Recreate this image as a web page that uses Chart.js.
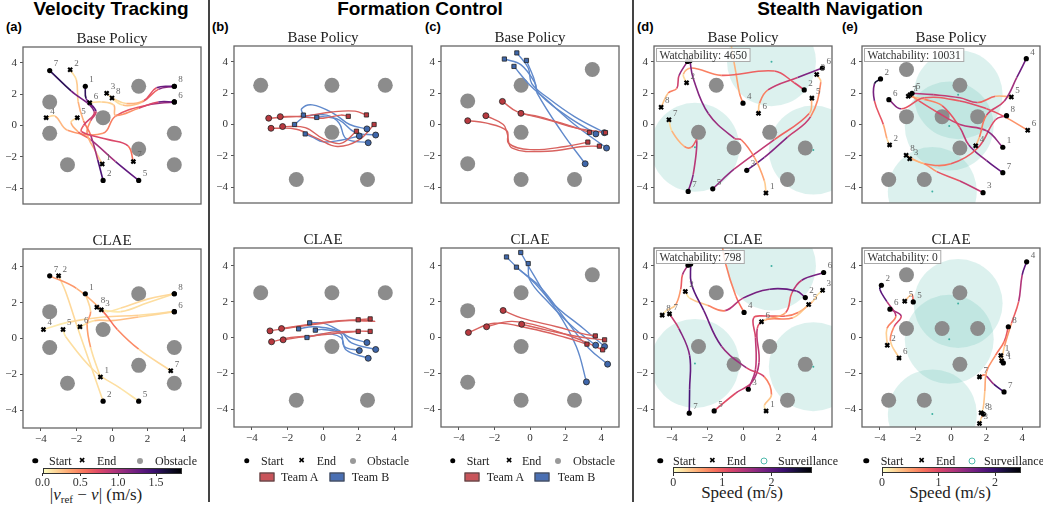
<!DOCTYPE html>
<html>
<head>
<meta charset="utf-8">
<script src="https://cdn.jsdelivr.net/npm/chart.js@4.4.0/dist/chart.umd.min.js"></script>
<style>
  body { margin: 0; width: 1043px; height: 505px; background: #fff; position: relative; overflow: hidden; font-family: "Liberation Serif", serif; color: #222; }
  canvas { position: absolute; }
  .abs { position: absolute; white-space: nowrap; }
  .head { font: bold 19px "Liberation Sans", sans-serif; line-height: 22px; top: -2px; transform: translateX(-50%); color: #000; }
  .letter { font: bold 13px "Liberation Sans", sans-serif; line-height: 15px; top: 19px; color: #000; }
  .vline { position: absolute; top: 0; width: 1.5px; height: 502px; background: #444; }
  .lt { font-size: 12px; line-height: 14px; transform: translateY(-50%); color: #222; }
  .mk { position: absolute; transform: translate(-50%, -50%); }
  .cbar { position: absolute; border: 0.8px solid #333; box-sizing: border-box;
          background: linear-gradient(to right, #fcfdbf, #fecf92, #fe9f6d, #f7705c, #de4968, #b73779, #8c2981, #641a80, #3b0f70, #140e36, #000004); }
  .ct { font-size: 12px; line-height: 13px; transform: translate(-50%, -50%); color: #333; }
  .cl { font-size: 17px; line-height: 18px; transform: translate(-50%, -50%); color: #222; }
  .sub { font-size: 11px; position: relative; top: 3px; line-height: 0; }
</style>
</head>
<body>
<div class="abs head" style="left:111px">Velocity Tracking</div>
<div class="abs head" style="left:420px">Formation Control</div>
<div class="abs head" style="left:840px">Stealth Navigation</div>
<div class="abs letter" style="left:6px">(a)</div>
<div class="abs letter" style="left:212px">(b)</div>
<div class="abs letter" style="left:425px">(c)</div>
<div class="abs letter" style="left:637px">(d)</div>
<div class="abs letter" style="left:842px">(e)</div>
<div class="vline" style="left:208px"></div>
<div class="vline" style="left:632px"></div>

<div class="cbar" style="left:42.5px;top:468px;width:139px;height:6px"></div>
<div class="cbar" style="left:673px;top:467px;width:139px;height:6px"></div>
<div class="cbar" style="left:881.5px;top:467px;width:139.5px;height:6px"></div>
<div class="abs cl" style="left:96px;top:494.5px">|<i>v</i><span class="sub">ref</span> − <i>v</i>| (m/s)</div>
<div class="abs cl" style="left:742px;top:493px">Speed (m/s)</div>
<div class="abs cl" style="left:950px;top:493px">Speed (m/s)</div>

<script>
// ---------- data ----------
const OBST_R = 0.42;   // obstacle radius (m)
const SURV_R = 2.5;    // surveillance radius (m)

// (a) Velocity Tracking
const velObstacles = [[-3.5, 1.5], [1.5, 2.5], [-0.5, 0.5], [-3.5, -0.5], [3.5, -0.5], [1.5, -1.5], [-2.5, -2.5], [3.5, -2.5]];
const velBase = [
  { id: 7, p: [[-3.5, 3.5], [-2.3, 2.2], [-1.0, 0.9], [-1.6, 0.0], [-1.7, -0.4], [-0.2, -0.9], [0.9, -1.3], [1.2, -2.3]], v: [1.7, 1.4, 1.0, 0.6, 0.7, 0.8, 0.7, 0.4] },
  { id: 2, p: [[-0.5, -3.5], [-0.8, -2.2], [-1.2, -0.6], [-1.6, 0.3], [-1.9, 1.5], [-2.0, 2.9], [-2.35, 3.55]], v: [1.5, 1.3, 0.7, 0.35, 0.25, 0.15, 0.1] },
  { id: 1, p: [[-1.5, 2.5], [-1.45, 1.7], [-0.9, 0.9], [-1.2, 0.3], [-1.4, -0.5], [-0.9, -1.7], [-0.55, -2.45]], v: [1.6, 1.5, 1.1, 0.5, 0.35, 0.25, 0.15] },
  { id: 5, p: [[1.5, -3.5], [0.2, -2.3], [-1.2, -0.9], [-1.9, -0.4], [-2.3, 0.2], [-1.95, 0.5]], v: [1.4, 1.2, 0.8, 0.4, 0.2, 0.1] },
  { id: 8, p: [[3.5, 2.5], [2.5, 2.4], [1.8, 1.6], [0.8, 1.4], [0.0, 1.75]], v: [1.5, 1.0, 0.4, 0.2, 0.1] },
  { id: 3, p: [[3.5, 2.5], [2.6, 2.3], [1.7, 1.5], [0.6, 1.3], [-0.3, 2.05]], v: [1.3, 0.9, 0.35, 0.15, 0.1], hs: 1 },
  { id: 6, p: [[3.5, 1.5], [2.6, 1.5], [1.5, 1.1], [0.2, 0.65], [0.1, 1.3], [-0.6, 1.5], [-1.25, 1.45]], v: [1.5, 1.0, 0.5, 0.35, 0.2, 0.15, 0.1] },
  { id: 4, p: [[3.5, 1.5], [2.0, 1.3], [0.2, 0.6], [-0.5, -0.5], [-2.5, -0.3], [-3.2, 0.6], [-3.7, 0.5]], v: [1.2, 0.8, 0.55, 0.45, 0.35, 0.2, 0.1], hs: 1 }
];
const velClae = [
  { id: 7, p: [[-3.5, 3.5], [-2.0, 2.8], [-0.5, 1.5], [0.3, 0.5], [1.5, -0.6], [3.3, -1.8]], v: [0.6, 0.2, 0.4, 0.7, 0.2, 0.1] },
  { id: 2, p: [[-0.5, -3.5], [-1.2, -1.5], [-2.0, 0.8], [-2.6, 2.6], [-3.0, 3.5]], v: [0.1, 0.15, 0.1, 0.2, 0.1] },
  { id: 1, p: [[-1.5, 2.5], [-1.2, 1.5], [-1.4, 0.8], [-1.2, -0.5], [-0.65, -2.15]], v: [0.1, 0.2, 0.6, 0.15, 0.1] },
  { id: 5, p: [[1.5, -3.5], [0.5, -2.8], [-1.0, -1.8], [-2.6, 0.1], [-2.75, 0.5]], v: [0.1, 0.1, 0.15, 0.1, 0.05] },
  { id: 8, p: [[3.5, 2.5], [2.0, 2.2], [0.5, 1.7], [-0.3, 1.5], [-0.85, 1.75]], v: [0.1, 0.2, 0.1, 0.1, 0.05] },
  { id: 3, p: [[3.5, 2.5], [2.0, 2.0], [0.5, 1.5], [-0.6, 1.6]], v: [0.1, 0.15, 0.1, 0.05], hs: 1 },
  { id: 6, p: [[3.5, 1.5], [1.5, 1.2], [0.0, 1.0], [-1.0, 1.0], [-1.8, 0.65]], v: [0.1, 0.2, 0.3, 0.15, 0.05] },
  { id: 4, p: [[3.5, 1.5], [1.5, 1.3], [-0.5, 1.2], [-2.5, 0.9], [-3.85, 0.5]], v: [0.1, 0.15, 0.2, 0.1, 0.05], hs: 1 }
];

// (b) Formation Control
const fbObstacles = [[-3.5, 2.5], [0.5, 2.5], [3.5, 2.5], [0.5, -0.5], [-1.5, -3.5], [2.5, -3.5]];
const fbBaseRed = [
  [[-3.05, 0.4], [-1.5, 0.5], [0.0, 0.4], [1.0, 0.6], [1.42, 0.52]],
  [[-2.4, 0.5], [-1.0, 0.55], [0.5, 0.8], [1.8, 0.85], [2.44, 0.61]],
  [[-2.92, -0.24], [-1.5, -0.3], [-0.3, -0.9], [0.8, -1.4], [2.0, -1.0], [2.87, 0.0]],
  [[-2.27, -0.13], [-1.0, -0.2], [0.0, -0.9], [1.0, -1.2], [1.88, -0.43]]
];
const fbBaseBlue = [
  [[2.47, -0.28], [1.5, 0.0], [0.6, 0.7], [-0.6, 1.25], [-1.2, 1.0], [-1.1, 0.6]],
  [[2.96, -0.67], [1.8, -0.5], [0.9, 0.3], [0.0, 0.5], [-0.35, 0.45]],
  [[2.04, -0.73], [1.0, -1.0], [0.0, -1.1], [-0.6, -0.8], [-1.0, -0.6]],
  [[2.54, -1.16], [1.3, -0.9], [0.9, 0.1], [0.2, 0.6], [-1.0, 0.5], [-1.6, 0.0]]
];
const fbClaeRed = [
  [[-2.98, 0.37], [-1.5, 0.6], [0.0, 0.8], [1.5, 0.95], [2.9, 0.9], [1.98, 0.99]],
  [[-2.33, 0.5], [-1.0, 0.7], [0.5, 0.9], [2.0, 1.0], [2.65, 1.04]],
  [[-2.89, -0.24], [-1.8, 0.0], [-0.5, 0.1], [0.5, 0.3], [1.98, 0.34]],
  [[-2.24, -0.13], [-1.0, 0.05], [0.5, 0.2], [2.0, 0.35], [2.65, 0.34]]
];
const fbClaeBlue = [
  [[2.47, -0.28], [1.5, 0.0], [0.9, 0.4], [0.0, 0.8], [-0.75, 0.82]],
  [[2.96, -0.67], [1.6, -0.3], [1.0, 0.3], [-0.5, 0.6], [-1.37, 0.48]],
  [[2.04, -0.73], [1.2, -0.5], [1.0, 0.2], [0.0, 0.45], [-0.43, 0.41]],
  [[2.54, -1.16], [1.3, -0.7], [1.0, 0.0], [0.0, 0.2], [-0.9, 0.0]]
];

// (c) Formation Control
const fcObstacles = [[3.5, 3.5], [-0.5, 2.5], [-3.5, 1.5], [-0.5, -0.5], [-3.5, -2.5], [-0.5, -3.5], [2.5, -3.5]];
const fcBaseRed = [
  [[-3.5, 0.24], [-2.5, 0.1], [-1.3, -0.4], [-1.2, -1.2], [0.0, -1.6], [2.0, -1.4], [3.25, -1.12]],
  [[-2.48, 0.56], [-1.5, 0.0], [-1.3, -0.5], [-1.0, -1.5], [1.0, -1.7], [3.0, -1.4], [3.9, -1.38]],
  [[-1.55, 1.47], [-0.7, 0.8], [0.5, 0.5], [2.0, 0.0], [3.34, -0.5]],
  [[-0.51, 0.71], [1.0, 0.3], [2.5, -0.2], [3.5, -0.4], [4.24, -0.52]]
];
const fcBaseBlue = [
  [[3.7, -0.6], [2.0, 0.6], [0.5, 2.0], [0.2, 3.0], [-0.2, 4.08]],
  [[4.18, -0.52], [2.5, 0.5], [1.0, 1.7], [0.1, 2.6], [-0.1, 3.6], [-0.74, 4.56]],
  [[4.3, -1.5], [2.5, 0.0], [0.9, 1.6], [0.0, 2.5], [-0.9, 3.7]],
  [[3.1, -2.5], [1.8, -0.5], [0.4, 2.0], [0.3, 2.6], [-0.5, 3.8], [-1.44, 4.17]]
];
const fcClaeRed = [
  [[-3.46, 0.28], [-2.0, 0.8], [0.0, 0.5], [2.0, 0.0], [3.2, -0.37]],
  [[-2.44, 0.6], [-1.0, 0.9], [1.0, 0.5], [3.0, -0.2], [4.08, -0.69]],
  [[-1.51, 1.51], [-0.5, 1.1], [1.5, 0.6], [3.0, 0.2], [3.67, 0.09]],
  [[-0.47, 0.74], [1.0, 0.4], [3.0, 0.0], [4.19, -0.13]]
];
const fcClaeBlue = [
  [[3.69, -0.43], [2.5, 0.5], [1.0, 2.0], [0.0, 3.2], [-0.1, 4.13]],
  [[4.19, -0.5], [3.0, 0.5], [1.2, 2.0], [0.2, 3.5], [-0.52, 4.75]],
  [[4.36, -1.49], [3.3, -0.6], [2.0, 1.0], [0.6, 2.8], [-0.6, 3.8], [-1.32, 4.5]],
  [[3.17, -2.48], [2.6, -0.5], [1.5, 1.5], [0.3, 3.0], [-0.76, 3.93]]
];

// (d) Stealth Navigation
const sdObstacles = [[-1.5, 2.5], [-2.5, -0.5], [1.5, -0.5], [-0.5, -1.5], [3.5, -1.5], [2.5, -3.5]];
const sdZones = [[1.6, 4.0], [-2.7, -1.45], [3.95, -1.63]];
const sdBase = [
  { id: 1, p: [[-2.98, 4.06], [-2.8, 2.95], [-1.95, 0.7], [-0.48, -0.88], [-0.1, -0.97], [0.64, -2.09], [1.2, -3.58], [1.29, -4.36]], v: [1.8, 1.8, 1.7, 1.5, 0.9, 0.7, 0.4, 0.2] },
  { id: 8, p: [[-3.12, 4.02], [-3.6, 3.1], [-3.72, 2.3], [-4.2, 2.0], [-4.6, 1.1]], v: [1.8, 1.5, 1.0, 0.5, 0.2] },
  { id: 2, p: [[3.44, 2.2], [2.88, 2.66], [1.76, 3.41], [-1.22, 3.13], [-2.9, 3.6], [-3.35, 3.2], [-3.17, 2.66]], v: [1.2, 1.1, 1.0, 0.9, 0.6, 0.3, 0.1] },
  { id: 4, p: [[0.0, 1.36], [-0.2, 2.0], [-0.4, 3.3], [-0.6, 4.6], [-0.7, 5.4]], v: [0.8, 0.6, 0.5, 0.4, 0.3] },
  { id: 6, p: [[4.46, 3.6], [3.07, 3.0], [1.4, 2.2], [0.93, 1.36], [0.87, 0.71]], v: [2.0, 1.6, 1.0, 0.5, 0.2] },
  { id: 3, p: [[0.21, -2.92], [1.2, -2.1], [2.5, -0.8], [3.8, 0.5], [4.37, 2.7], [4.14, 3.18]], v: [2.0, 1.9, 1.6, 1.0, 0.4, 0.2] },
  { id: 5, p: [[-1.7, -4.1], [-0.5, -2.85], [1.76, -0.97], [3.72, 0.7], [3.87, 1.68]], v: [1.8, 1.5, 1.2, 0.7, 0.2] },
  { id: 7, p: [[-3.08, -4.26], [-2.8, -3.2], [-2.6, -1.0], [-2.9, -1.45], [-3.3, -1.4], [-4.0, -0.4], [-4.16, 0.3]], v: [1.9, 1.6, 1.2, 0.8, 0.6, 0.3, 0.1] }
];
const sdClae = [
  { id: 1, p: [[-2.94, 4.1], [-2.9, 3.0], [-2.2, 1.5], [-1.2, -0.5], [0.2, -1.7], [1.2, -2.2], [1.6, -3.2], [1.2, -3.8], [1.3, -4.1]], v: [2.0, 2.1, 2.0, 1.8, 1.4, 1.0, 0.5, 0.2, 0.1] },
  { id: 8, p: [[-3.09, 4.04], [-3.4, 3.5], [-3.5, 2.7], [-3.8, 1.8], [-4.3, 1.5], [-4.54, 1.25]], v: [1.8, 1.2, 0.8, 0.4, 0.2, 0.1] },
  { id: 2, p: [[3.5, 2.23], [3.0, 2.6], [1.5, 2.7], [0.0, 2.2], [-1.0, 1.5], [-2.0, 1.8], [-3.0, 2.2], [-3.24, 2.57]], v: [1.8, 2.0, 1.9, 1.8, 1.0, 0.5, 0.2, 0.1] },
  { id: 4, p: [[0.06, 1.4], [-0.4, 2.3], [-1.0, 4.2], [-1.2, 5.4]], v: [0.9, 0.8, 0.7, 0.6] },
  { id: 6, p: [[4.53, 3.63], [3.3, 3.2], [2.75, 2.5], [2.4, 1.4], [1.3, 1.0], [1.04, 0.88]], v: [2.2, 1.5, 1.2, 0.8, 0.3, 0.1] },
  { id: 3, p: [[0.3, -2.89], [0.7, -1.8], [0.7, 0.0], [0.6, 1.1], [1.3, 1.2], [2.4, 1.2], [3.1, 1.4], [3.9, 2.0], [4.2, 2.4], [4.47, 2.64]], v: [1.5, 1.4, 1.3, 1.1, 1.0, 0.9, 0.6, 0.3, 0.2, 0.1] },
  { id: 5, p: [[-1.62, -4.1], [-0.4, -3.1], [0.5, -2.5], [0.9, -1.4], [0.8, 0.5], [1.3, 1.0], [2.8, 1.1], [3.69, 1.84]], v: [1.0, 1.2, 1.4, 1.5, 1.2, 1.0, 0.5, 0.1] },
  { id: 7, p: [[-3.02, -4.23], [-3.0, -2.9], [-3.0, -1.0], [-3.6, 0.5], [-4.13, 1.32]], v: [2.3, 2.1, 1.9, 1.6, 1.0] }
];

// (e) Stealth Navigation
const seObstacles = [[-2.5, 3.5], [0.5, 2.5], [-2.5, 0.5], [-0.5, 0.5], [1.5, 0.5], [0.5, -1.5], [-3.5, -3.5], [-1.5, -3.5]];
const seZones = [[0.4, 1.9], [-0.1, -0.1], [-1.05, -4.27]];
const seBase = [
  { id: 2, p: [[-3.96, 2.9], [-4.3, 2.6], [-4.3, 1.5], [-3.8, 0.0], [-3.6, -0.9], [-3.45, -1.3]], v: [2.4, 2.0, 1.2, 0.6, 0.3, 0.1] },
  { id: 6, p: [[-3.49, 1.58], [-2.8, 1.0], [-1.5, 1.7], [0.5, 1.5], [2.0, 1.0], [3.0, 0.5], [4.31, -0.37]], v: [2.0, 1.0, 0.8, 0.9, 1.0, 0.8, 0.3] },
  { id: 4, p: [[4.23, 4.19], [3.7, 3.0], [3.0, 1.5], [2.0, 0.6], [1.6, -0.8], [1.39, -1.36]], v: [1.8, 1.5, 1.2, 0.9, 0.5, 0.2] },
  { id: 5, p: [[-2.19, 1.99], [-1.0, 1.9], [0.5, 1.7], [1.5, 1.4], [2.5, 1.8], [3.39, 1.75]], v: [1.2, 1.2, 1.1, 1.0, 0.6, 0.2] },
  { id: 1, p: [[2.91, -1.45], [2.0, -0.4], [0.5, 0.0], [-0.8, 0.8], [-1.8, 1.5], [-2.3, 1.9]], v: [1.6, 1.3, 1.1, 1.0, 0.8, 0.3] },
  { id: 8, p: [[3.12, 0.56], [2.5, 0.3], [1.5, -1.5], [0.0, -2.5], [-1.5, -2.5], [-2.52, -1.96]], v: [1.2, 1.0, 0.9, 0.8, 0.6, 0.2] },
  { id: 7, p: [[2.91, -3.07], [2.0, -2.3], [1.0, -1.3], [0.5, -0.2], [-0.5, 1.2], [-1.5, 1.6], [-2.4, 1.8]], v: [1.8, 1.6, 1.3, 1.0, 0.8, 0.5, 0.2] },
  { id: 3, p: [[1.8, -4.34], [0.5, -3.6], [-0.8, -3.0], [-1.5, -2.5], [-2.32, -2.18]], v: [1.2, 1.1, 0.7, 0.4, 0.2] }
];
const seClae = [
  { id: 2, p: [[-3.91, 2.92], [-4.0, 2.7], [-3.6, 2.0], [-3.1, 1.2], [-3.6, 0.5], [-3.58, -0.43]], v: [2.2, 2.0, 1.5, 0.9, 0.4, 0.1] },
  { id: 6, p: [[-3.43, 1.58], [-2.8, 1.2], [-3.2, 0.6], [-3.4, -0.2], [-2.92, -1.14]], v: [1.5, 1.2, 0.8, 0.4, 0.1] },
  { id: 5, p: [[-2.12, 1.99], [-2.2, 2.4], [-2.6, 2.03]], v: [1.0, 0.5, 0.1] },
  { id: 4, p: [[4.25, 4.23], [4.0, 3.5], [3.8, 2.0], [3.4, 0.8], [3.0, -0.5], [2.85, -1.3]], v: [2.0, 1.5, 1.0, 0.7, 0.4, 0.1] },
  { id: 8, p: [[3.22, 0.6], [3.0, -0.2], [2.5, -1.0], [2.0, -1.9], [1.9, -3.0], [1.8, -4.0], [1.69, -4.2]], v: [1.0, 0.8, 0.6, 0.5, 0.4, 0.2, 0.1] },
  { id: 1, p: [[2.94, -1.42], [2.75, -1.2], [2.8, -1.0]], v: [0.8, 0.3, 0.1] },
  { id: 7, p: [[2.98, -3.04], [2.4, -2.6], [1.9, -2.1], [1.6, -2.2]], v: [2.0, 1.8, 1.0, 0.3] },
  { id: 3, p: [[1.82, -4.28], [1.7, -4.5], [1.6, -4.8]], v: [0.5, 0.3, 0.1] }
];

const tickValues = [-4, -2, 0, 2, 4];

// ---------- helpers ----------
const MAGMA_R = ['#fcfdbf', '#fecf92', '#fe9f6d', '#f7705c', '#de4968', '#b73779', '#8c2981', '#641a80', '#3b0f70', '#140e36', '#000004'];
const rgb = h => [1, 3, 5].map(i => parseInt(h.slice(i, i + 2), 16));
function speedColor(v, vmax) {
  const t = Math.max(0, Math.min(1, v / vmax)) * (MAGMA_R.length - 1);
  const i = Math.min(Math.floor(t), MAGMA_R.length - 2), f = t - i;
  const a = rgb(MAGMA_R[i]), b = rgb(MAGMA_R[i + 1]);
  return 'rgb(' + a.map((c, k) => Math.round(c + (b[k] - c) * f)).join(',') + ')';
}
const unit = ctx => {
  const s = ctx.chart.scales && ctx.chart.scales.x;
  return s ? Math.abs(s.getPixelForValue(1) - s.getPixelForValue(0)) : 17.8;
};
const pts = arr => arr.map(([x, y]) => ({ x, y }));
const minus = v => (v < 0 ? '\u2212' + Math.abs(v) : String(v));

const RED_LINE = '#d8625f', BLUE_LINE = '#6089cb', RED_MK = '#b8393f', BLUE_MK = '#3f67ab';

// one chart per sub-plot; cfg.left / cfg.top = plot area corner on the page
function panel(cfg) {
  const S = 178;
  const cv = document.createElement('canvas');
  cv.width = 238;
  cv.height = 24 + S + (cfg.xTicks ? 22 : 2);
  cv.style.left = (cfg.left - 30) + 'px';
  cv.style.top = (cfg.top - 24) + 'px';
  document.body.appendChild(cv);

  const ds = [];
  if (cfg.zones) {
    ds.push({ data: pts(cfg.zones), order: 10, clip: 0, pointRadius: c => SURV_R * unit(c),
      backgroundColor: 'rgba(110,197,186,0.24)', borderWidth: 0 });
    ds.push({ data: pts(cfg.zones), order: 2, pointRadius: 1, backgroundColor: '#3fb0a2', borderWidth: 0 });
  }
  ds.push({ data: pts(cfg.obstacles), order: 9, clip: 0, pointRadius: c => OBST_R * unit(c),
    backgroundColor: '#8c8c8c', borderWidth: 0 });

  const labels = [];
  if (cfg.paths) {
    cfg.paths.forEach(a => {
      ds.push({ data: pts(a.p), order: 5, showLine: true, clip: 0, tension: 0.4, pointRadius: 0, borderWidth: 1.6,
        borderColor: speedColor(a.v[0], cfg.vmax),
        segment: { borderColor: c => speedColor((a.v[c.p0DataIndex] + a.v[c.p1DataIndex]) / 2, cfg.vmax) } });
      const s = a.p[0], e = a.p[a.p.length - 1];
      if (!a.hs) labels.push([s[0], s[1], a.id]);
      labels.push([e[0], e[1], a.id]);
    });
    ds.push({ data: pts(cfg.paths.map(a => a.p[0])), order: 1, pointRadius: 2.6, backgroundColor: '#000', borderWidth: 0 });
    ds.push({ data: pts(cfg.paths.map(a => a.p[a.p.length - 1])), order: 1, pointStyle: 'crossRot', pointRadius: 2.8,
      borderColor: '#000', borderWidth: 2.2 });
  }
  if (cfg.teams) {
    cfg.teams.forEach(([paths, line, mk]) => {
      paths.forEach(p => ds.push({ data: pts(p), order: 5, showLine: true, clip: 0, tension: 0.4, pointRadius: 0,
        borderWidth: 1.4, borderColor: line }));
      ds.push({ data: pts(paths.map(p => p[0])), order: 1, pointRadius: 3, backgroundColor: mk, borderColor: '#222', borderWidth: 0.8 });
      ds.push({ data: pts(paths.map(p => p[p.length - 1])), order: 1, pointStyle: 'rect', pointRadius: 3, backgroundColor: mk,
        borderColor: '#222', borderWidth: 0.8 });
    });
  }

  const deco = {
    id: 'deco',
    afterDatasetsDraw(chart) {
      const { ctx, chartArea: A, scales: { x, y } } = chart;
      ctx.save();
      ctx.font = '9px "Liberation Serif"';
      ctx.fillStyle = '#666';
      ctx.textBaseline = 'bottom';
      labels.forEach(([lx, ly, t]) => {
        if (Math.abs(lx) > 5 || Math.abs(ly) > 5) return;
        ctx.fillText(String(t), x.getPixelForValue(lx) + 4, y.getPixelForValue(ly) - 2);
      });
      if (cfg.watch !== undefined) {
        ctx.font = '11.5px "Liberation Serif"';
        const txt = 'Watchability: ' + cfg.watch;
        const w = ctx.measureText(txt).width + 6;
        ctx.fillStyle = 'rgba(255,255,255,0.85)';
        ctx.strokeStyle = '#aaa';
        ctx.lineWidth = 1;
        ctx.fillRect(A.left + 2.5, A.top + 2.5, w, 13);
        ctx.strokeRect(A.left + 2.5, A.top + 2.5, w, 13);
        ctx.fillStyle = '#333';
        ctx.textBaseline = 'middle';
        ctx.fillText(txt, A.left + 5.5, A.top + 9.5);
      }
      ctx.strokeStyle = '#666';
      ctx.lineWidth = 1.3;
      ctx.strokeRect(A.left, A.top, A.right - A.left, A.bottom - A.top);
      ctx.restore();
    }
  };

  const tickFont = { family: '"Liberation Serif", serif', size: 11 };
  new Chart(cv, {
    type: 'scatter',
    data: { datasets: ds },
    options: {
      responsive: false,
      devicePixelRatio: 1,
      animation: false,
      events: [],
      layout: { padding: { left: 0, right: 0, top: 0, bottom: cfg.xTicks ? 0 : 2 } },
      plugins: {
        legend: { display: false },
        tooltip: { enabled: false },
        title: { display: true, text: cfg.title, color: '#222', padding: { top: 8, bottom: 0 },
          font: { family: '"Liberation Serif", serif', size: 15, weight: 'normal', lineHeight: 1 } }
      },
      scales: {
        x: {
          min: -5, max: 5, display: !!cfg.xTicks,
          afterBuildTicks: a => { a.ticks = tickValues.map(v => ({ value: v })); },
          afterFit: a => { a.height = 22; },
          grid: { drawOnChartArea: false, tickLength: 3, color: '#555' },
          border: { display: false },
          ticks: { color: '#333', font: tickFont, padding: 2, maxRotation: 0, callback: minus }
        },
        y: {
          min: -5, max: 5,
          afterBuildTicks: a => { a.ticks = tickValues.map(v => ({ value: v })); },
          afterFit: a => { a.width = 30; },
          grid: { drawOnChartArea: false, tickLength: 3, color: '#555' },
          border: { display: false },
          ticks: { color: '#333', font: tickFont, padding: 3, callback: minus }
        },
        y2: {
          position: 'right', display: true,
          afterFit: a => { a.width = 30; },
          grid: { display: false }, border: { display: false }, ticks: { display: false }
        }
      }
    },
    plugins: [deco]
  });
}

// ---------- panels ----------
panel({ left: 23, top: 47.5, title: 'Base Policy', obstacles: velObstacles, paths: velBase, vmax: 1.84 });
panel({ left: 23, top: 249.5, title: 'CLAE', obstacles: velObstacles, paths: velClae, vmax: 1.84, xTicks: true });
panel({ left: 233.5, top: 47, title: 'Base Policy', obstacles: fbObstacles, teams: [[fbBaseRed, RED_LINE, RED_MK], [fbBaseBlue, BLUE_LINE, BLUE_MK]] });
panel({ left: 234, top: 249, title: 'CLAE', obstacles: fbObstacles, teams: [[fbClaeRed, RED_LINE, RED_MK], [fbClaeBlue, BLUE_LINE, BLUE_MK]], xTicks: true });
panel({ left: 441, top: 47, title: 'Base Policy', obstacles: fcObstacles, teams: [[fcBaseRed, RED_LINE, RED_MK], [fcBaseBlue, BLUE_LINE, BLUE_MK]] });
panel({ left: 441, top: 249, title: 'CLAE', obstacles: fcObstacles, teams: [[fcClaeRed, RED_LINE, RED_MK], [fcClaeBlue, BLUE_LINE, BLUE_MK]], xTicks: true });
panel({ left: 654, top: 47, title: 'Base Policy', obstacles: sdObstacles, zones: sdZones, paths: sdBase, vmax: 2.83, watch: 4650 });
panel({ left: 654, top: 249, title: 'CLAE', obstacles: sdObstacles, zones: sdZones, paths: sdClae, vmax: 2.83, watch: 798, xTicks: true });
panel({ left: 862, top: 47, title: 'Base Policy', obstacles: seObstacles, zones: seZones, paths: seBase, vmax: 2.44, watch: 10031 });
panel({ left: 862, top: 249, title: 'CLAE', obstacles: seObstacles, zones: seZones, paths: seClae, vmax: 2.44, watch: 0, xTicks: true });

// ---------- legends (html) ----------
function put(html, cls, x, y, style) {
  const d = document.createElement('div');
  d.className = 'abs ' + cls;
  d.style.left = x + 'px';
  d.style.top = y + 'px';
  if (style) d.style.cssText += style;
  d.innerHTML = html;
  document.body.appendChild(d);
}
function marker(kind, x, y) {
  const st = {
    start: 'width:5.5px;height:5.5px;border-radius:50%;background:#000',
    obst: 'width:6px;height:6px;border-radius:50%;background:#999',
    surv: 'width:5px;height:5px;border-radius:50%;border:1.2px solid #4fb9ac;background:#fff'
  };
  if (kind === 'end') put('\u2716', 'mk', x, y, 'font:8px "DejaVu Sans";line-height:8px;color:#000');
  else put('', 'mk', x, y, st[kind]);
}
const legendRows = [
  [35, 49, 82, 97, 140, 155, 'obst', 'Obstacle'],
  [246.7, 261, 301.7, 316.7, 352.7, 367, 'obst', 'Obstacle'],
  [452.7, 466.7, 509, 522, 558.3, 573, 'obst', 'Obstacle'],
  [660, 673, 712.3, 726.7, 764.3, 778, 'surv', 'Surveillance'],
  [866, 880.7, 921.7, 936, 971.7, 984, 'surv', 'Surveillance']
];
legendRows.forEach(r => {
  marker('start', r[0], 460.5);
  put('Start', 'lt', r[1], 460.5);
  marker('end', r[2], 460.5);
  put('End', 'lt', r[3], 460.5);
  marker(r[6], r[4], 460.5);
  put(r[7], 'lt', r[5], 460.5);
});
[[260, 281, 330, 351.7], [465.7, 486.7, 535.7, 557.7]].forEach(r => {
  put('', 'mk', r[0] + 6.5, 477, 'width:13px;height:7px;background:#c8545a;border:0.8px solid #444');
  put('Team A', 'lt', r[1], 477);
  put('', 'mk', r[2] + 6.5, 477, 'width:13px;height:7px;background:#4a6fb3;border:0.8px solid #444');
  put('Team B', 'lt', r[3], 477);
});
const cbTicks = [
  [[42.5, '0.0'], [80.3, '0.5'], [118.1, '1.0'], [155.9, '1.5']],
  [[673.3, '0'], [722.2, '1'], [771.5, '2']],
  [[881.9, '0'], [938.5, '1'], [995.1, '2']]
];
cbTicks.forEach(list => list.forEach(([x, t]) => {
  put('', 'abs', x - 0.4, 473, 'width:0.8px;height:2.5px;background:#333');
  put(t, 'ct', x, 481.5);
}));
</script>
</body>
</html>
